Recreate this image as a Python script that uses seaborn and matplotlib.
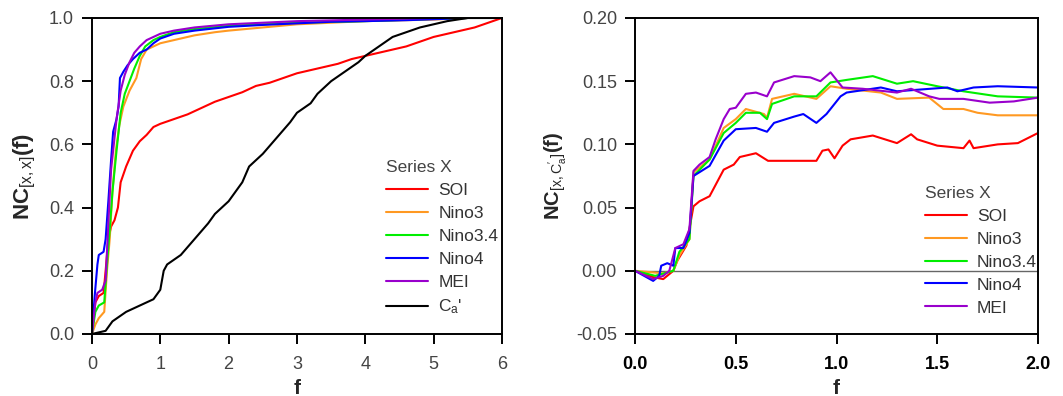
import numpy as np
import pandas as pd
import matplotlib
matplotlib.use("Agg")
import matplotlib.pyplot as plt
import seaborn as sns

# ---- left panel: NC[x,x](f) ----
soi_f = [0, 0.05, 0.1, 0.17, 0.2, 0.24, 0.28, 0.33, 0.38, 0.42, 0.5, 0.6, 0.7, 0.8, 0.9, 1.0, 1.2, 1.4, 1.6,
         1.8, 2.0, 2.2, 2.4, 2.6, 2.8, 3.0, 3.2, 3.4, 3.6, 3.8, 4.0, 4.2, 4.4, 4.6, 4.8, 5.0, 5.2, 5.4, 5.6, 5.8, 6.0]
soi_nc = [0, 0.10, 0.12, 0.13, 0.20, 0.30, 0.34, 0.36, 0.40, 0.48, 0.53, 0.58, 0.61, 0.63, 0.655, 0.665, 0.68,
          0.695, 0.715, 0.735, 0.75, 0.765, 0.785, 0.795, 0.81, 0.825, 0.835, 0.845, 0.855, 0.87, 0.88, 0.89,
          0.90, 0.91, 0.925, 0.94, 0.95, 0.96, 0.97, 0.985, 1.0]

nino3_f = [0, 0.05, 0.1, 0.18, 0.22, 0.26, 0.3, 0.35, 0.4, 0.46, 0.55, 0.65, 0.72, 0.8, 0.9, 1.0, 1.2, 1.5,
           1.8, 2.0, 2.5, 3.0, 3.5, 4.0, 5.0, 5.5, 6.0]
nino3_nc = [0, 0.03, 0.05, 0.07, 0.20, 0.30, 0.45, 0.58, 0.66, 0.72, 0.77, 0.81, 0.87, 0.90, 0.91, 0.92, 0.93,
            0.945, 0.955, 0.96, 0.97, 0.98, 0.985, 0.99, 0.995, 1.0, 1.0]

nino34_f = [0, 0.05, 0.1, 0.18, 0.22, 0.26, 0.3, 0.36, 0.42, 0.48, 0.55, 0.62, 0.7, 0.78, 0.9, 1.0, 1.2, 1.5,
            2.0, 2.5, 3.0, 4.0, 5.0, 5.5, 6.0]
nino34_nc = [0, 0.07, 0.09, 0.10, 0.22, 0.33, 0.45, 0.58, 0.70, 0.76, 0.80, 0.84, 0.88, 0.91, 0.93, 0.94, 0.955,
             0.965, 0.975, 0.98, 0.985, 0.99, 0.997, 1.0, 1.0]

nino4_f = [0, 0.04, 0.08, 0.1, 0.17, 0.2, 0.24, 0.28, 0.31, 0.36, 0.39, 0.41, 0.46, 0.52, 0.6, 0.7, 0.8, 0.9,
           1.0, 1.2, 1.5, 2.0, 2.5, 3.0, 3.5, 4.0, 4.6, 5.0, 5.5, 6.0]
nino4_nc = [0, 0.12, 0.22, 0.25, 0.26, 0.30, 0.42, 0.55, 0.64, 0.68, 0.72, 0.81, 0.83, 0.85, 0.87, 0.89, 0.90,
            0.92, 0.935, 0.95, 0.96, 0.972, 0.978, 0.983, 0.988, 0.99, 0.993, 0.996, 1.0, 1.0]

mei_f = [0, 0.05, 0.08, 0.15, 0.2, 0.24, 0.28, 0.32, 0.36, 0.42, 0.48, 0.55, 0.62, 0.7, 0.8, 0.9, 1.0, 1.2,
         1.5, 2.0, 2.5, 3.0, 4.0, 5.0, 6.0]
mei_nc = [0, 0.10, 0.13, 0.14, 0.17, 0.35, 0.52, 0.60, 0.68, 0.77, 0.82, 0.86, 0.89, 0.91, 0.93, 0.94, 0.95,
          0.96, 0.97, 0.98, 0.985, 0.99, 0.995, 1.0, 1.0]

ca_f = [0, 0.2, 0.3, 0.5, 0.7, 0.9, 1.0, 1.05, 1.1, 1.3, 1.5, 1.7, 1.8, 2.0, 2.2, 2.3, 2.5, 2.7, 2.9, 3.0,
        3.2, 3.3, 3.5, 3.7, 3.9, 4.0, 4.2, 4.4, 4.6, 4.8, 5.0, 5.2, 5.5, 6.0]
ca_nc = [0, 0.01, 0.04, 0.07, 0.09, 0.11, 0.14, 0.20, 0.22, 0.25, 0.30, 0.35, 0.38, 0.42, 0.48, 0.53, 0.57,
         0.62, 0.67, 0.70, 0.73, 0.76, 0.80, 0.83, 0.86, 0.88, 0.91, 0.94, 0.955, 0.97, 0.98, 0.99, 1.0, 1.0]

# ---- right panel: NC[x,Ca'](f) ----
soi2_f = [0, 0.09, 0.14, 0.19, 0.21, 0.255, 0.29, 0.32, 0.37, 0.4, 0.44, 0.49, 0.52, 0.6, 0.66, 0.8, 0.9,
          0.93, 0.96, 0.99, 1.03, 1.07, 1.18, 1.3, 1.37, 1.4, 1.5, 1.63, 1.66, 1.68, 1.8, 1.9, 2.0]
soi2_nc = [0, -0.005, -0.0066, 0, 0.008, 0.02, 0.051, 0.055, 0.059, 0.068, 0.08, 0.084, 0.09, 0.093, 0.087,
           0.087, 0.087, 0.095, 0.096, 0.089, 0.099, 0.104, 0.107, 0.101, 0.108, 0.104, 0.099, 0.097, 0.103,
           0.097, 0.100, 0.101, 0.109]

nino32_f = [0, 0.14, 0.19, 0.22, 0.27, 0.29, 0.37, 0.44, 0.5, 0.55, 0.64, 0.655, 0.68, 0.79, 0.9, 0.97, 1.05,
            1.22, 1.3, 1.46, 1.53, 1.63, 1.7, 1.8, 2.0]
nino32_nc = [0, -0.002, 0, 0.012, 0.025, 0.078, 0.088, 0.113, 0.12, 0.128, 0.124, 0.121, 0.136, 0.14, 0.136,
             0.146, 0.144, 0.141, 0.136, 0.137, 0.128, 0.128, 0.125, 0.123, 0.123]

nino342_f = [0, 0.1, 0.19, 0.22, 0.27, 0.29, 0.37, 0.44, 0.5, 0.55, 0.62, 0.655, 0.68, 0.79, 0.9, 0.97, 1.05,
             1.18, 1.3, 1.38, 1.5, 1.63, 1.8, 2.0]
nino342_nc = [0, -0.004, 0, 0.015, 0.025, 0.075, 0.088, 0.109, 0.117, 0.125, 0.125, 0.12, 0.132, 0.138, 0.138,
              0.149, 0.151, 0.154, 0.148, 0.15, 0.146, 0.142, 0.138, 0.137]

nino42_f = [0, 0.09, 0.12, 0.13, 0.16, 0.19, 0.2, 0.24, 0.27, 0.29, 0.37, 0.44, 0.5, 0.6, 0.655, 0.69, 0.79,
            0.835, 0.9, 0.95, 1.02, 1.05, 1.22, 1.3, 1.55, 1.6, 1.68, 1.8, 2.0]
nino42_nc = [0, -0.008, -0.004, 0.004, 0.006, 0.004, 0.018, 0.018, 0.03, 0.075, 0.083, 0.103, 0.112, 0.113,
             0.11, 0.117, 0.122, 0.124, 0.117, 0.124, 0.138, 0.141, 0.145, 0.142, 0.145, 0.142, 0.145, 0.146,
             0.145]

mei2_f = [0, 0.09, 0.14, 0.17, 0.2, 0.24, 0.27, 0.29, 0.32, 0.37, 0.4, 0.44, 0.47, 0.5, 0.55, 0.6, 0.655,
          0.69, 0.79, 0.87, 0.92, 0.97, 1.03, 1.13, 1.3, 1.37, 1.46, 1.51, 1.63, 1.76, 1.88, 2.0]
mei2_nc = [0, -0.0066, -0.004, 0, 0.018, 0.021, 0.033, 0.079, 0.084, 0.09, 0.104, 0.12, 0.128, 0.129, 0.14,
           0.141, 0.138, 0.149, 0.154, 0.153, 0.15, 0.157, 0.145, 0.144, 0.141, 0.144, 0.138, 0.136, 0.136,
           0.133, 0.134, 0.137]

labels_left = ["SOI", "Nino3", "Nino3.4", "Nino4", "MEI", "C$_a$'"]
labels_right = ["SOI", "Nino3", "Nino3.4", "Nino4", "MEI"]
colors = ["#ff0000", "#ff9922", "#00ee00", "#0000ff", "#9900cc", "#000000"]


def long_form(pairs, names):
    parts = []
    for (fx, ny), name in zip(pairs, names):
        parts.append(pd.DataFrame({"f": fx, "nc": ny, "series": name}))
    return pd.concat(parts, ignore_index=True)


df_left = long_form([(soi_f, soi_nc), (nino3_f, nino3_nc), (nino34_f, nino34_nc),
                     (nino4_f, nino4_nc), (mei_f, mei_nc), (ca_f, ca_nc)], labels_left)
df_right = long_form([(soi2_f, soi2_nc), (nino32_f, nino32_nc), (nino342_f, nino342_nc),
                      (nino42_f, nino42_nc), (mei2_f, mei2_nc)], labels_right)

sns.set_theme(style="ticks")
plt.rcParams["font.family"] = ["Liberation Sans", "DejaVu Sans"]
plt.rcParams["mathtext.fontset"] = "custom"
plt.rcParams["mathtext.rm"] = "Liberation Sans"
plt.rcParams["mathtext.it"] = "Liberation Sans:italic"
plt.rcParams["mathtext.bf"] = "Liberation Sans:bold"
plt.rcParams["mathtext.default"] = "rm"

fig = plt.figure(figsize=(10.63, 3.96), dpi=100)
ax1 = fig.add_axes([0.0865, 0.1566, 0.3857, 0.798])
ax2 = fig.add_axes([0.5974, 0.1566, 0.3791, 0.798])

sns.lineplot(data=df_left, x="f", y="nc", hue="series", palette=colors, estimator=None,
             sort=False, linewidth=1.5, ax=ax1)
sns.lineplot(data=df_right, x="f", y="nc", hue="series", palette=colors[:5], estimator=None,
             sort=False, linewidth=1.5, ax=ax2)
ax2.axhline(0, color="#666666", lw=1, zorder=0)

ax1.set_xlim(0, 6)
ax1.set_ylim(0, 1)
ax1.set_xticks(range(7))
ax1.set_yticks(np.arange(0, 1.01, 0.2))
ax1.yaxis.set_major_formatter(matplotlib.ticker.FormatStrFormatter("%.1f"))

ax2.set_xlim(0, 2)
ax2.set_ylim(-0.05, 0.2)
ax2.set_xticks(np.arange(0, 2.01, 0.5))
ax2.set_yticks(np.arange(-0.05, 0.201, 0.05))
ax2.xaxis.set_major_formatter(matplotlib.ticker.FormatStrFormatter("%.1f"))
ax2.yaxis.set_major_formatter(matplotlib.ticker.FormatStrFormatter("%.2f"))

ax1.set_ylabel(r"$\mathbf{NC}_{[x,x]}\mathbf{(f)}$", fontsize=16, labelpad=8)
ax2.set_ylabel(r"$\mathbf{NC}_{[x,C_a']}\mathbf{(f)}$", fontsize=14.5, labelpad=5)

for ax in (ax1, ax2):
    ax.set_xlabel("f", fontsize=15, fontweight="bold", labelpad=4)
    for s in ax.spines.values():
        s.set_linewidth(1.4)
        s.set_color("black")
    ax.tick_params(direction="out", length=7, width=1.4, color="black", labelsize=13,
                   labelcolor="#444444", top=False, right=False)
    ax.tick_params(axis="x", pad=9)
    ax.tick_params(axis="y", pad=6)

for t in ax2.get_xticklabels():
    t.set_fontweight("bold")
    t.set_color("black")

legend_pos = [(ax1, (0.355, 0.618)), (ax2, (0.862, 0.553))]
for ax, pos in legend_pos:
    handles, labels = ax.get_legend_handles_labels()
    leg = ax.legend(handles, labels, title="Series X", frameon=False, fontsize=12.5,
                    title_fontsize=12.5, loc="upper left", bbox_to_anchor=pos,
                    bbox_transform=fig.transFigure, handlelength=2.4, handletextpad=0.6,
                    labelspacing=0.45, borderpad=0)
    leg._legend_box.align = "left"
    leg.get_title().set_color("#444444")
    for t in leg.get_texts():
        t.set_color("#333333")

fig.savefig("out.png", dpi=100)
